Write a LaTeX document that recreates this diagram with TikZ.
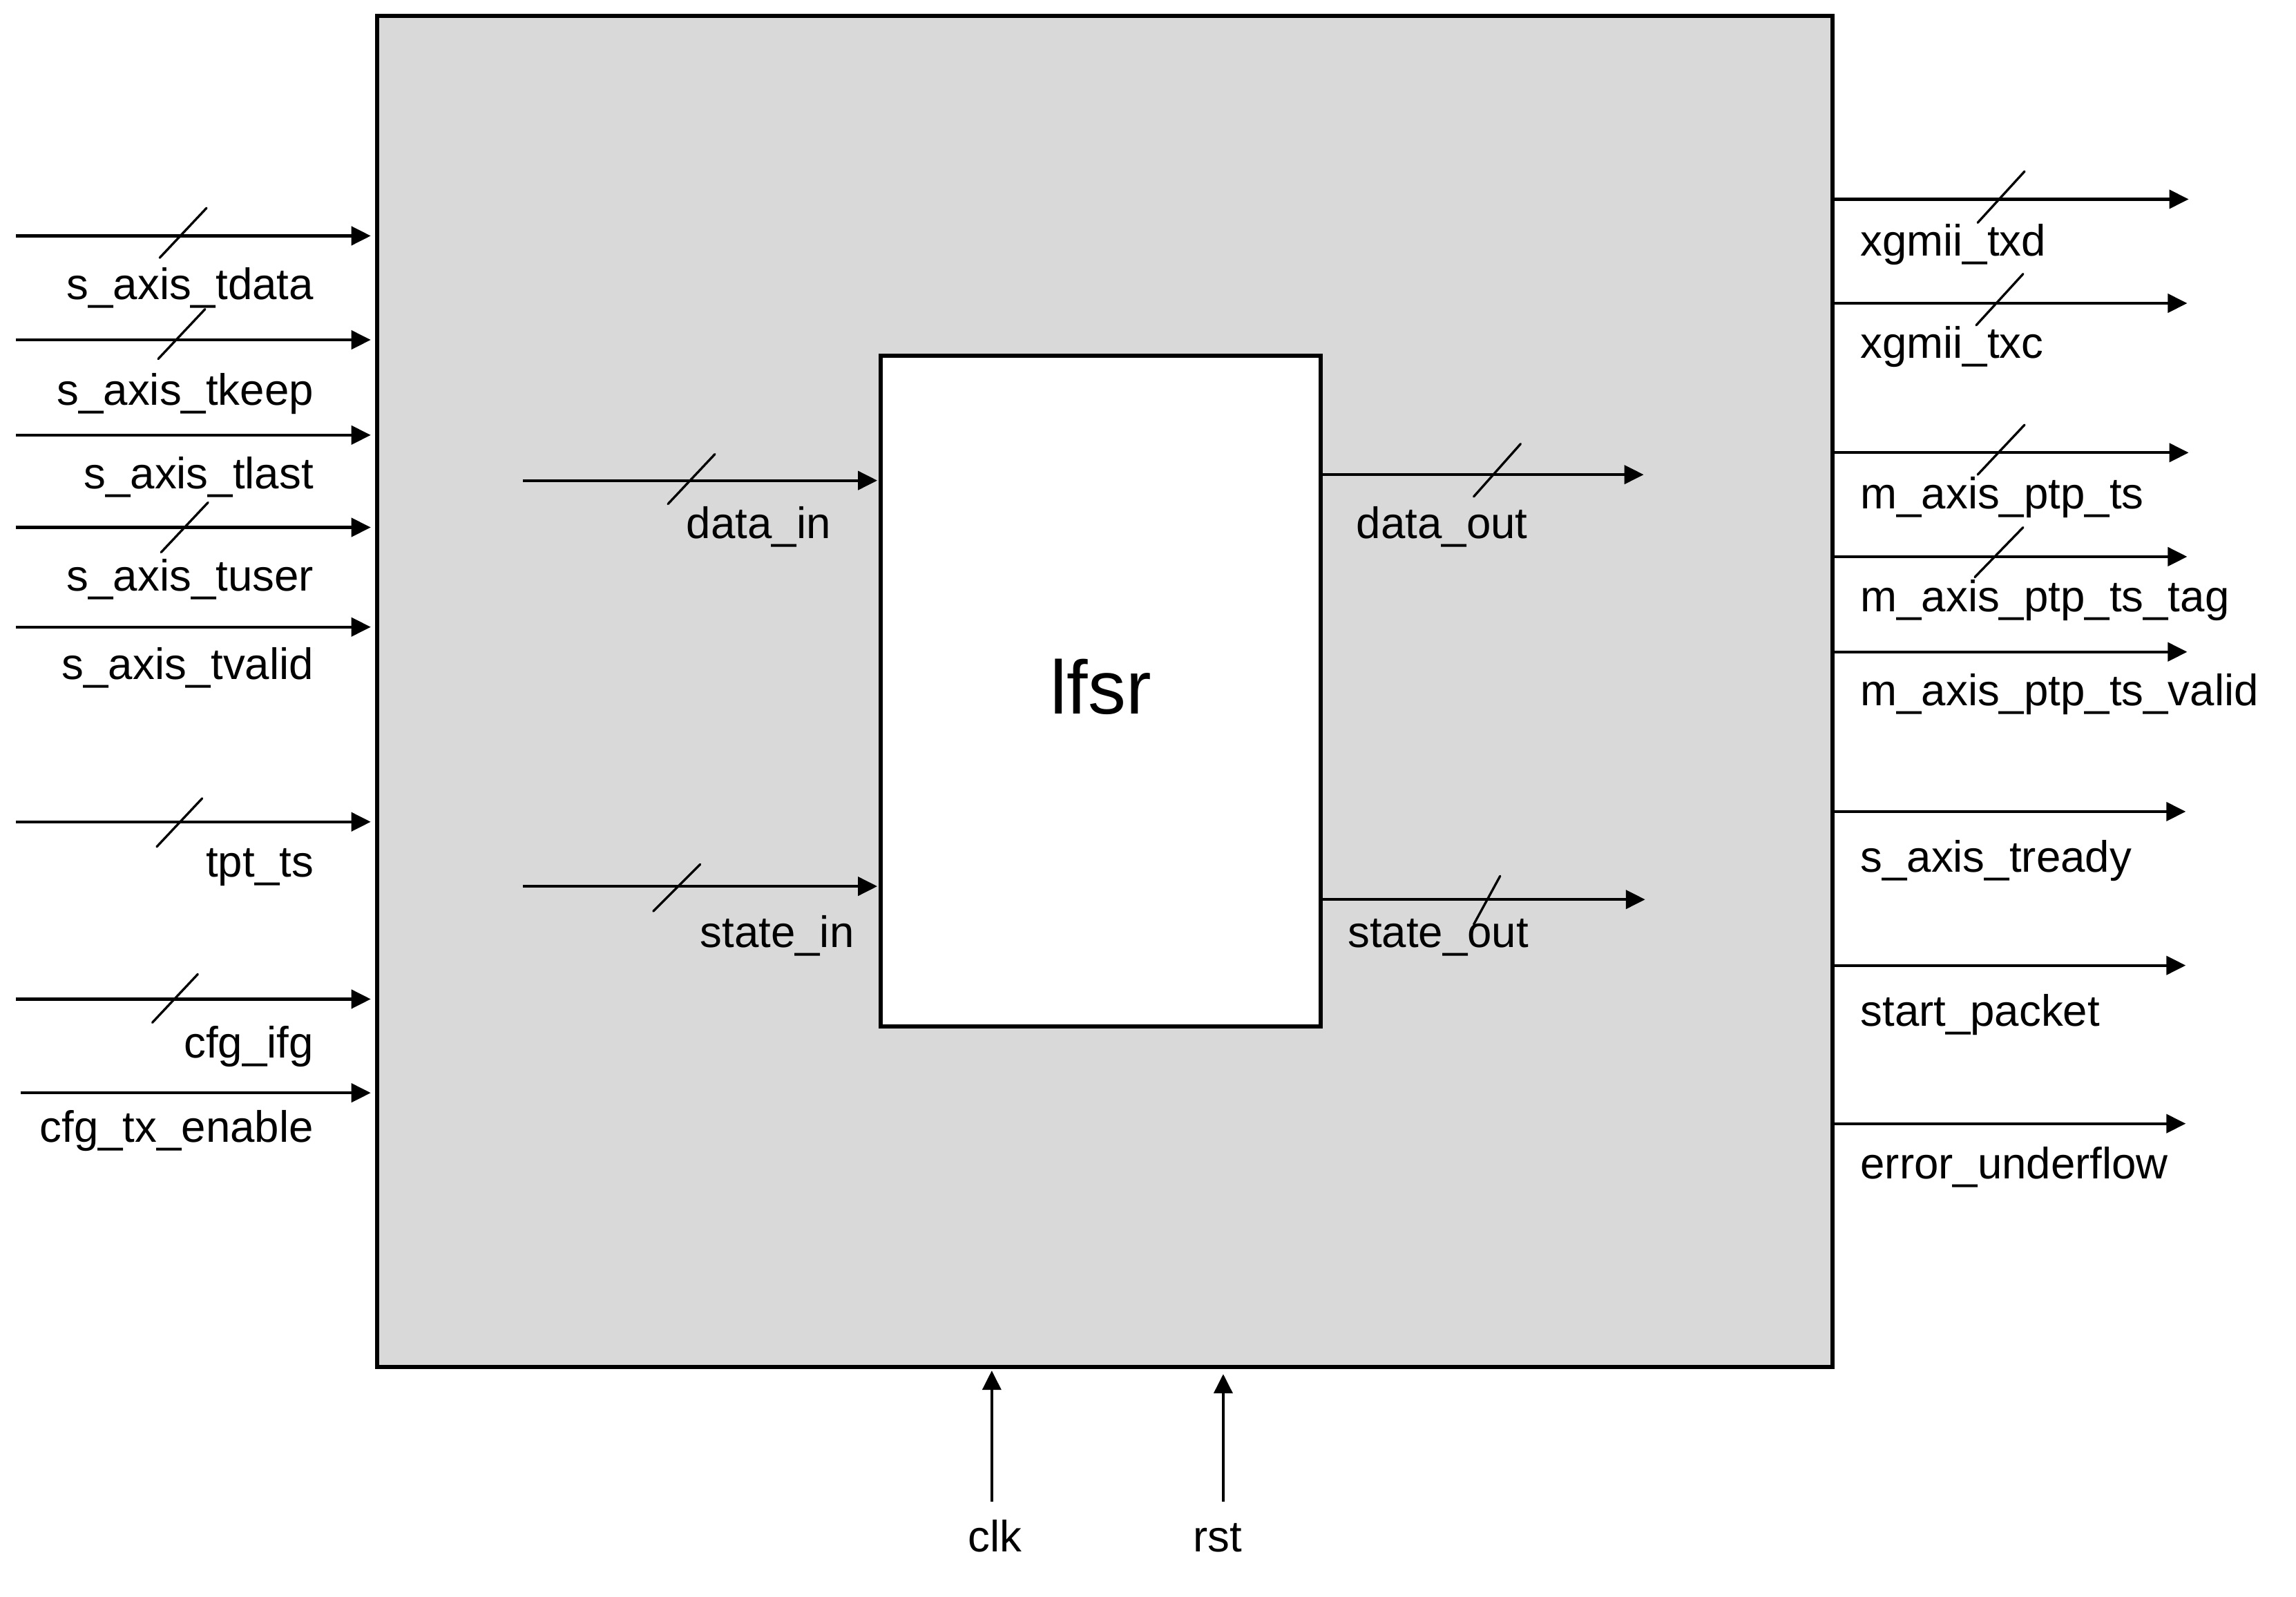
\documentclass[tikz,border=0pt]{standalone}
\usepackage{fontspec}
\setmainfont{Liberation Sans}
\usetikzlibrary{arrows.meta}
\begin{document}
\begin{tikzpicture}[x=0.021208cm,y=-0.021208cm,
  sig/.style={line width=1.2pt,-{Triangle[length=0.28cm,width=0.27cm]}},
  bus/.style={line width=0.95pt,line cap=round},
  lbl/.style={font=\fontsize{18.1}{20}\selectfont,inner sep=0pt,outer sep=0pt},
  outerbox/.style={draw,line width=1.7pt,fill=black!15,inner sep=0pt,outer sep=0pt,minimum width=21.073cm,minimum height=19.56cm},
  innerbox/.style={draw,line width=1.7pt,fill=white,inner sep=0pt,outer sep=0pt,minimum width=6.37cm,minimum height=9.71cm},
  bigtext/.style={font=\fontsize{31.2}{34}\selectfont,inner sep=0pt,outer sep=0pt}]
\useasboundingbox[fill=white] (0,0) rectangle (1567.3,1089.7);
\node[outerbox] (top) at (754.1,472.1) {};
\node[innerbox] (lf) at (751.4,471.9) {};
\node[bigtext] (lft) at (751.4,469) {lfsr};
% left inputs
\coordinate (a1) at (11,161);
\coordinate (a2) at (11,232);
\coordinate (a3) at (11,297);
\coordinate (a4) at (11,360);
\coordinate (a5) at (11,428);
\coordinate (a6) at (11,561);
\coordinate (a7) at (11,682);
\coordinate (a8) at (14,746);
\foreach \p in {a1,a2,a3,a4,a5,a6,a7,a8}{
  \draw[sig,shorten >=0.09cm] (\p) -- (\p -| top.west);
}
\draw[bus] (109,176) -- (141,142);
\draw[bus] (108,245) -- (140,211);
\draw[bus] (110,377) -- (142,343);
\draw[bus] (107,578) -- (138,545);
\draw[bus] (104,698) -- (135,665);
\node[lbl,anchor=base east] (la1) at (214,204.5) {s\_axis\_tdata};
\node[lbl,anchor=base east] (la2) at (214,276.5) {s\_axis\_tkeep};
\node[lbl,anchor=base east] (la3) at (214,333.5) {s\_axis\_tlast};
\node[lbl,anchor=base east] (la4) at (214,403.5) {s\_axis\_tuser};
\node[lbl,anchor=base east] (la5) at (214,463.5) {s\_axis\_tvalid};
\node[lbl,anchor=base east] (la6) at (214,598.5) {tpt\_ts};
\node[lbl,anchor=base east] (la7) at (214,722) {cfg\_ifg};
\node[lbl,anchor=base east] (la8) at (214,779.5) {cfg\_tx\_enable};
% right outputs
\coordinate (b1) at (1494,136);
\coordinate (b2) at (1493,207);
\coordinate (b3) at (1494,309);
\coordinate (b4) at (1493,380);
\coordinate (b5) at (1493,445);
\coordinate (b6) at (1492,554);
\coordinate (b7) at (1492,659);
\coordinate (b8) at (1492,767);
\foreach \p in {b1,b2,b3,b4,b5,b6,b7,b8}{
  \draw[sig] (\p -| top.east) -- (\p);
}
\draw[bus] (1350,152) -- (1382,117);
\draw[bus] (1349,222) -- (1381,187);
\draw[bus] (1350,324) -- (1382,290);
\draw[bus] (1348,394) -- (1381,360);
\node[lbl,anchor=base west] (lb1) at (1270,174.5) {xgmii\_txd};
\node[lbl,anchor=base west] (lb2) at (1270,244.5) {xgmii\_txc};
\node[lbl,anchor=base west] (lb3) at (1270,347.5) {m\_axis\_ptp\_ts};
\node[lbl,anchor=base west] (lb4) at (1270,417.5) {m\_axis\_ptp\_ts\_tag};
\node[lbl,anchor=base west] (lb5) at (1270,481.5) {m\_axis\_ptp\_ts\_valid};
\node[lbl,anchor=base west] (lb6) at (1270,595.5) {s\_axis\_tready};
\node[lbl,anchor=base west] (lb7) at (1270,700.5) {start\_packet};
\node[lbl,anchor=base west] (lb8) at (1270,804.5) {error\_underflow};
% inner signals
\coordinate (di) at (357,328);
\coordinate (si) at (357,605);
\coordinate (do) at (1122,324);
\coordinate (so) at (1123,614);
\draw[sig,shorten >=0.05cm] (di) -- (di -| lf.west);
\draw[sig,shorten >=0.05cm] (si) -- (si -| lf.west);
\draw[sig] (do -| lf.east) -- (do);
\draw[sig] (so -| lf.east) -- (so);
\draw[bus] (456,344) -- (488,310);
\draw[bus] (446,622) -- (478,590);
\draw[bus] (1006,339) -- (1038,303);
\draw[bus] (1006,631) -- (1024,598);
\node[lbl,anchor=base east] (ldi) at (567,367.5) {data\_in};
\node[lbl,anchor=base east] (lsi) at (583,646.5) {state\_in};
\node[lbl,anchor=base west] (ldo) at (926,367.5) {data\_out};
\node[lbl,anchor=base west] (lso) at (920,646.5) {state\_out};
% clock / reset
\coordinate (ck) at (677,1025);
\coordinate (rs) at (835,1025);
\draw[sig,shorten >=0.05cm] (ck) -- (ck |- top.south);
\draw[sig,shorten >=0.1cm] (rs) -- (rs |- top.south);
\node[lbl,anchor=base] (lck) at (679,1059) {clk};
\node[lbl,anchor=base] (lrs) at (831,1059) {rst};
\end{tikzpicture}
\end{document}
